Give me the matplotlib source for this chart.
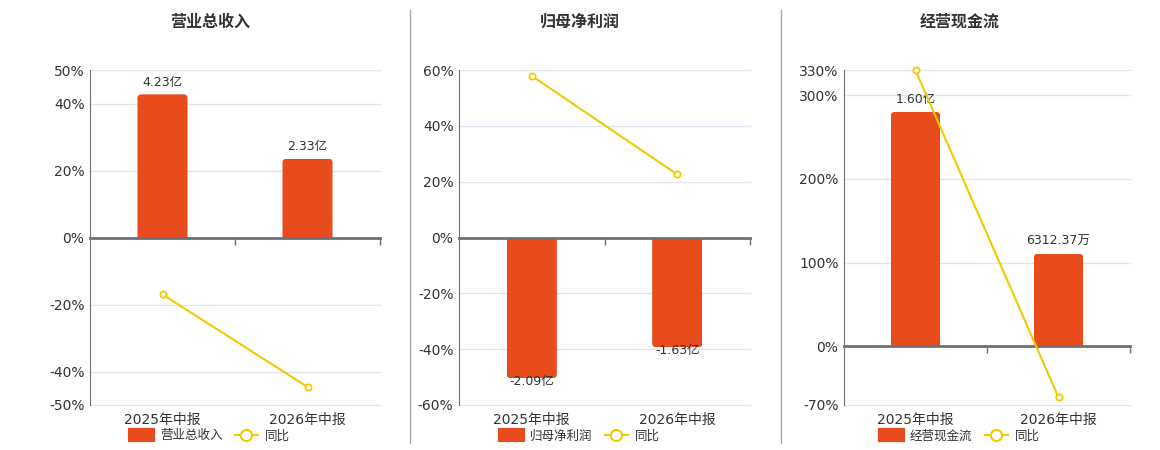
import matplotlib.pyplot as plt
from matplotlib.lines import Line2D
from matplotlib.patches import FancyBboxPatch, Patch, Rectangle
from matplotlib.ticker import FuncFormatter

plt.rcParams["font.family"] = ["DejaVu Sans", "Noto Sans CJK SC"]

# data
categories = ["2025年中报", "2026年中报"]
titles = ["营业总收入", "归母净利润", "经营现金流"]

revenue = [4.23, 2.33]  # 亿
revenue_labels = ["4.23亿", "2.33亿"]
revenue_yoy = [-17.0, -44.6]

profit = [-2.09, -1.63]  # 亿
profit_labels = ["-2.09亿", "-1.63亿"]
profit_yoy = [57.9, 22.6]

cashflow = [1.60, 0.631237]  # 亿
cashflow_labels = ["1.60亿", "6312.37万"]
cashflow_yoy = [329.5, -61.0]

pct_ticks = [
    [-50, -40, -20, 0, 20, 40, 50],
    [-60, -40, -20, 0, 20, 40, 60],
    [-70, 0, 100, 200, 300, 330],
]
# hidden bar axis limits (亿), zero aligned with the percent axis
bar_limits = [(-4.95, 4.95), (-2.49, 2.49), (-0.40, 1.886)]

BAR = "#E84B1C"
LINE = "#F2CA00"
AXIS = "#6E7079"
GRID = "#E0E6F1"
TEXT = "#333333"

panels = [
    (titles[0], revenue, revenue_labels, revenue_yoy),
    (titles[1], profit, profit_labels, profit_yoy),
    (titles[2], cashflow, cashflow_labels, cashflow_yoy),
]
lefts = [90, 459, 844]
widths = [290, 291, 286]
centers = [210, 580, 960]
plot_h = 405 - 70

W, H = 1160, 450
fig = plt.figure(figsize=(W / 100, H / 100), dpi=100)

for i, (title, bars, blabels, yoy) in enumerate(panels):
    rect = [lefts[i] / W, 1 - 405 / H, widths[i] / W, plot_h / H]
    ax = fig.add_axes(rect)
    x = list(range(len(categories)))
    lo, hi = pct_ticks[i][0], pct_ticks[i][-1]

    # base layer: percent ticks, grid, left spine, category labels
    ax.set_xlim(-0.5, 1.5)
    ax.set_ylim(lo, hi)
    ax.set_yticks(pct_ticks[i])
    ax.yaxis.set_major_formatter(FuncFormatter(lambda v, p: f"{v:.0f}%"))
    ax.set_xticks(x)
    ax.set_xticklabels(categories)
    ax.tick_params(axis="both", length=0, labelsize=10, colors=TEXT, pad=4)
    ax.tick_params(axis="x", pad=6)
    ax.grid(axis="y", color=GRID, lw=1)
    for gl in ax.get_ygridlines():
        gl.set_clip_on(False)
    for s in ["top", "right", "bottom"]:
        ax.spines[s].set_visible(False)
    ax.spines["left"].set_color(AXIS)

    # bars on hidden twin axis, with rounded outer corners
    axb = ax.twinx()
    axb.set_ylim(*bar_limits[i])
    bc = axb.bar(x, bars, width=0.345, color=BAR)
    x_px = 2 / widths[i]
    y_px = (bar_limits[i][1] - bar_limits[i][0]) / plot_h
    for p in bc:
        x0, w, h = p.get_x(), p.get_width(), p.get_height()
        ext = 6 * y_px
        b0, b1 = (-ext, h) if h > 0 else (h, ext)
        fp = FancyBboxPatch((x0, b0), w, b1 - b0,
                            boxstyle=f"round,pad=0,rounding_size={4 * x_px}",
                            mutation_aspect=y_px / x_px, fc=BAR, ec="none")
        axb.add_patch(fp)
        clip = Rectangle((x0, min(0, h)), w, abs(h), transform=axb.transData)
        fp.set_clip_path(clip)
        p.set_visible(False)
    for xi, v, lab in zip(x, bars, blabels):
        axb.annotate(lab, (xi, v), xytext=(0, 4 if v > 0 else 2),
                     textcoords="offset points", ha="center",
                     va="bottom" if v > 0 else "top", fontsize=9, color=TEXT,
                     zorder=6)
    axb.set_yticks([])
    for s in axb.spines.values():
        s.set_visible(False)

    # line and zero axis on a separate top layer
    axl = fig.add_axes(rect)
    axl.patch.set_visible(False)
    axl.set_xlim(-0.5, 1.5)
    axl.set_ylim(lo, hi)
    axl.plot(x, yoy, color=LINE, lw=1.5, marker="o", ms=4.5,
             mfc="white", mec=LINE, mew=1.3, clip_on=False, zorder=5)
    axl.set_yticks([])
    for s in ["top", "right", "left"]:
        axl.spines[s].set_visible(False)
    axl.spines["bottom"].set_position(("data", 0))
    axl.spines["bottom"].set_color(AXIS)
    axl.spines["bottom"].set_linewidth(2)
    axl.set_xticks([0.5, 1.5])
    axl.set_xticklabels([])
    axl.tick_params(axis="x", length=5, width=1, color=AXIS, direction="out")

    fig.text(centers[i] / W, 1 - 22 / H, title, ha="center", va="center",
             fontsize=11.5, fontweight="bold", color=TEXT)

    handles = [
        Patch(facecolor=BAR, edgecolor=BAR, linewidth=3, joinstyle="round",
              label=title),
        Line2D([], [], color=LINE, lw=1.5, marker="o", ms=8, mfc="white",
               mec=LINE, mew=1.5, label="同比"),
    ]
    fig.legend(handles=handles, loc="center",
               bbox_to_anchor=(centers[i] / W, 1 - 436 / H), ncol=2,
               frameon=False, fontsize=9, handlelength=1.8, handleheight=0.9,
               handletextpad=0.6, columnspacing=1.0, labelcolor=TEXT)

for xs in [410, 781]:
    fig.add_artist(Line2D([xs / W, xs / W], [1 - 443 / H, 1 - 10 / H],
                          color="#AAAAAA", lw=1))

fig.savefig("out.png", dpi=100)
